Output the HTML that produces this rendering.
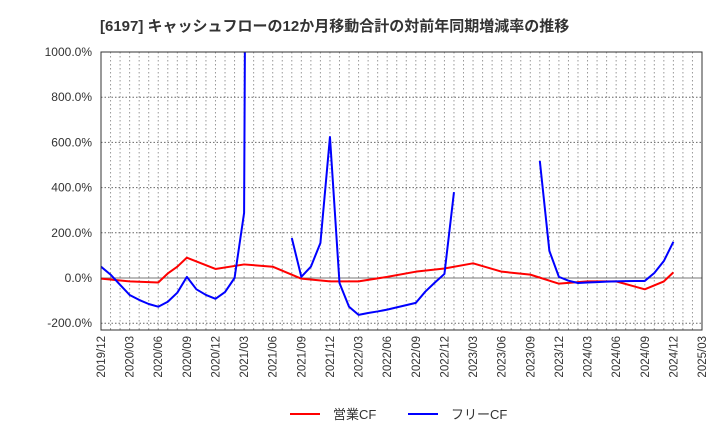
<!DOCTYPE html>
<html><head><meta charset="utf-8"><style>
body{margin:0;background:#fff;font-family:"Liberation Sans","Noto Sans CJK JP",sans-serif}
svg text{font-family:"Liberation Sans","Noto Sans CJK JP",sans-serif}
</style></head><body>
<svg width="720" height="440" xmlns="http://www.w3.org/2000/svg">
<text x="100" y="31" font-size="15" font-weight="bold" fill="#333">[6197]  キャッシュフローの12か月移動合計の対前年同期増減率の推移</text>
<g id="grid"></g>
<defs><clipPath id="clip"><rect x="101" y="52" width="601" height="278"/></clipPath></defs>
<g id="series" clip-path="url(#clip)"></g>
<rect x="101" y="52" width="601" height="278" fill="none" stroke="#333" stroke-width="1"/>
<g id="axes"></g>
<g>
<line x1="290" y1="414" x2="320" y2="414" stroke="#f00" stroke-width="2"/>
<text x="333" y="419" font-size="13" fill="#333">営業CF</text>
<line x1="408" y1="414" x2="438" y2="414" stroke="#00f" stroke-width="2"/>
<text x="451" y="419" font-size="13" fill="#333">フリーCF</text>
</g>
</svg>
<script>
const yTicks=[-200,0,200,400,600,800,1000];
const xTickLabels=["2019/12","2020/03","2020/06","2020/09","2020/12","2021/03","2021/06","2021/09","2021/12","2022/03","2022/06","2022/09","2022/12","2023/03","2023/06","2023/09","2023/12","2024/03","2024/06","2024/09","2024/12","2025/03"];
// monthly values starting 2019/12; null = no point
const operatingCF=[-3,null,null,-15,null,null,-20,20,50,90,null,null,40,null,null,60,null,null,50,null,null,-3,null,null,-15,null,null,-15,null,null,5,null,null,28,null,null,42,null,null,65,null,null,28,null,null,15,null,null,-25,null,null,-15,null,null,-15,null,null,-50,null,-15,25];
const freeCF=[50,15,-30,-75,-97,-115,-127,-105,-65,5,-50,-75,-92,-62,0,288,9000,null,null,null,177,5,50,155,624,-22,-127,-163,-155,-148,-140,-130,-120,-110,-60,-20,18,380,null,null,null,null,null,null,null,null,518,120,5,-12,-22,-20,-18,-16,-15,-14,-13,-13,22,75,160];
const NS="http://www.w3.org/2000/svg";
const x0=101,x1=702,y0=330,yTop=52,monthsSpan=63;
function X(i){return x0+i*(x1-x0)/monthsSpan;}
function Y(v){return 278-v*0.226;}
function mk(tag,attrs,parent){const e=document.createElementNS(NS,tag);for(const k in attrs)e.setAttribute(k,attrs[k]);parent.appendChild(e);return e;}
const grid=document.getElementById('grid'),axes=document.getElementById('axes'),ser=document.getElementById('series');
for(let m=1;m<monthsSpan;m++){
 const l=mk('line',{x1:X(m),x2:X(m),y1:yTop,y2:y0,stroke:'#999','stroke-dasharray':'1.5,2.5','stroke-width':1},grid);
 
 
}
yTicks.forEach(v=>{
 const y=Y(v);
 const l=mk('line',{x1:x0,x2:x1,y1:y,y2:y,stroke:v===0?'#777':'#666','stroke-dasharray':v===0?'none':'1.5,2','stroke-width':1},grid);
 
 
 const t=mk('text',{x:92,y:y+4,'font-size':12,fill:'#333','text-anchor':'end'},axes);
 t.textContent=v.toFixed(1)+'%';
 
 
});
xTickLabels.forEach((s,k)=>{
 const x=X(k*3);
 const t=mk('text',{x:0,y:0,'font-size':11.5,fill:'#333','text-anchor':'end',transform:`translate(${x+4},336) rotate(-90)`},axes);
 t.textContent=s;
 
 
});
// operating CF: connect non-null points
let pts=[];operatingCF.forEach((v,i)=>{if(v!==null)pts.push(X(i)+','+Y(v));});
const op=mk('polyline',{points:pts.join(' '),fill:'none',stroke:'#f00','stroke-width':2,'stroke-linejoin':'round'},ser);


// free CF: break at nulls
let seg=[];
function flush(){if(seg.length>1){const p=mk('polyline',{points:seg.join(' '),fill:'none',stroke:'#00f','stroke-width':2,'stroke-linejoin':'round'},ser);
 
 }seg=[];}
freeCF.forEach((v,i)=>{if(v===null)flush();else seg.push(X(i)+','+Y(v));});flush();
</script>
</body></html>
